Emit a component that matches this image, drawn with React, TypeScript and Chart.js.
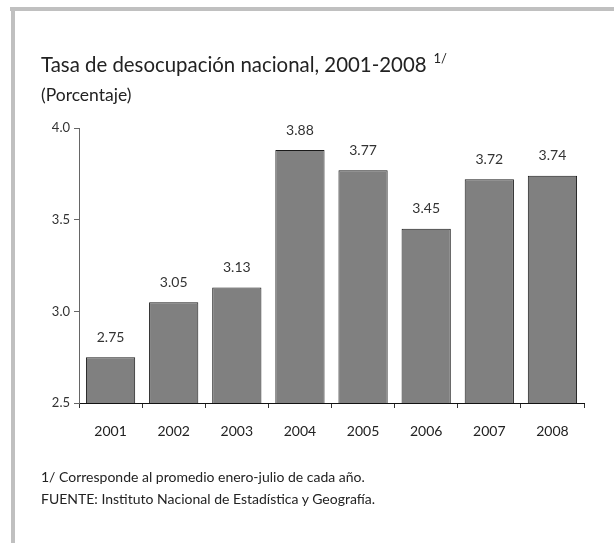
import React, { useEffect, useRef } from "react";
import { Chart, registerables } from "chart.js";

Chart.register(...registerables);

const years = ["2001", "2002", "2003", "2004", "2005", "2006", "2007", "2008"];
const rates = [2.75, 3.05, 3.13, 3.88, 3.77, 3.45, 3.72, 3.74];
const yMin = 2.5;
const yMax = 4.0;
const yStep = 0.5;
const titleText = "Tasa de desocupación nacional, 2001-2008";
const titleNote = "1/";
const subtitleText = "(Porcentaje)";
const footnotes = [
  "1/ Corresponde al promedio enero-julio de cada año.",
  "FUENTE: Instituto Nacional de Estadística y Geografía.",
];

const FONT = "Lato, 'Open Sans', sans-serif";

const valueLabels = {
  id: "valueLabels",
  afterDatasetsDraw(chart: any) {
    const ctx = chart.ctx;
    const meta = chart.getDatasetMeta(0);
    ctx.save();
    ctx.font = "14px " + FONT;
    ctx.fillStyle = "#333";
    ctx.textAlign = "center";
    ctx.textBaseline = "middle";
    meta.data.forEach((bar: any, i: number) => {
      ctx.fillText(rates[i].toFixed(2), bar.x, bar.y - 20);
    });
    ctx.restore();
  },
};

export default function App() {
  const canvasRef = useRef<HTMLCanvasElement | null>(null);

  useEffect(() => {
    if (!canvasRef.current) return;
    const chart = new Chart(canvasRef.current, {
      type: "bar",
      data: {
        labels: years,
        datasets: [
          {
            data: rates,
            backgroundColor: "#808080",
            borderColor: "#1a1a1a",
            borderWidth: 1,
            barPercentage: 0.78,
            categoryPercentage: 1,
          },
        ],
      },
      options: {
        responsive: false,
        animation: false,
        devicePixelRatio: 1,
        layout: { padding: { left: 30, top: 128, right: 30, bottom: 100 } },
        plugins: {
          legend: { display: false },
          tooltip: { enabled: false },
          title: { display: false },
        },
        scales: {
          x: {
            offset: true,
            grid: {
              display: true,
              offset: true,
              drawOnChartArea: false,
              drawTicks: true,
              tickLength: 5,
              color: "#333",
            },
            border: { display: true, color: "#111", width: 1 },
            ticks: {
              color: "#222",
              font: { family: FONT, size: 14 },
              padding: 15,
            },
            afterFit(scale: any) {
              scale.height = 40;
            },
          },
          y: {
            min: yMin,
            max: yMax,
            grid: {
              display: true,
              drawOnChartArea: false,
              drawTicks: true,
              tickLength: 5,
              color: "#666",
            },
            border: { display: true, color: "#666", width: 1 },
            ticks: {
              stepSize: yStep,
              color: "#333",
              font: { family: FONT, size: 13 },
              padding: 4,
              callback: (v: any) => Number(v).toFixed(1),
            },
            afterFit(scale: any) {
              scale.width = 49;
            },
          },
        },
      },
      plugins: [valueLabels],
    });
    return () => chart.destroy();
  }, []);

  return (
    <div
      style={{
        position: "fixed",
        left: 0,
        top: 0,
        width: 614,
        height: 543,
        background: "#fff",
        fontFamily: FONT,
        color: "#222",
        overflow: "hidden",
      }}
    >
      <div style={{ position: "absolute", left: 10, top: 7, width: 604, height: 4, background: "#c0c0c0" }} />
      <div style={{ position: "absolute", left: 11, top: 11, width: 4, height: 532, background: "#c0c0c0" }} />
      <canvas
        ref={canvasRef}
        width={614}
        height={543}
        style={{ position: "absolute", left: 0, top: 0, width: 614, height: 543 }}
      />
      <div
        style={{
          position: "absolute",
          left: 41,
          top: 52,
          fontSize: 20.4,
          lineHeight: "24px",
          whiteSpace: "nowrap",
        }}
      >
        {titleText}
        <span style={{ fontSize: 13, position: "relative", top: -9, marginLeft: 7 }}>{titleNote}</span>
      </div>
      <div
        style={{
          position: "absolute",
          left: 41,
          top: 85,
          fontSize: 17.5,
          lineHeight: "20px",
          whiteSpace: "nowrap",
        }}
      >
        {subtitleText}
      </div>
      <div
        style={{
          position: "absolute",
          left: 41,
          top: 466,
          fontSize: 14,
          lineHeight: "22px",
          whiteSpace: "nowrap",
        }}
      >
        {footnotes.map((f, i) => (
          <div key={i}>{f}</div>
        ))}
      </div>
    </div>
  );
}
